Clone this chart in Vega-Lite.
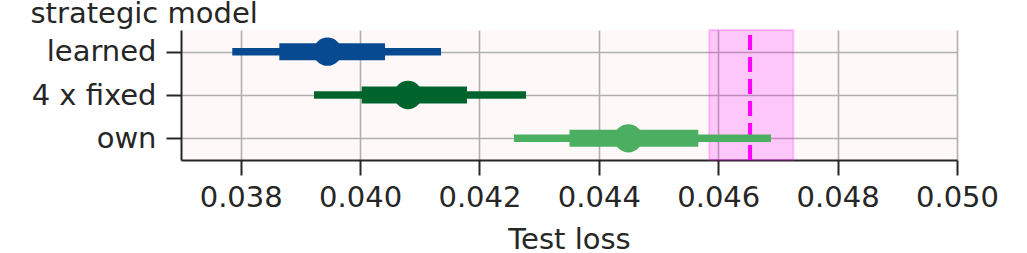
{
  "$schema": "https://vega.github.io/schema/vega-lite/v6.json",
  "width": 776,
  "height": 130,
  "autosize": {"type": "none"},
  "padding": {"left": 181, "top": 30, "right": 70, "bottom": 93},
  "datasets": {
    "rows": [
      {"model": "learned", "mean": 0.039454, "lo95": 0.037859, "hi95": 0.041356, "lo50": 0.038647, "hi50": 0.040418},
      {"model": "4 x fixed", "mean": 0.040803, "lo95": 0.039228, "hi95": 0.04278, "lo50": 0.040027, "hi50": 0.041791},
      {"model": "own", "mean": 0.044494, "lo95": 0.042579, "hi95": 0.046884, "lo50": 0.043508, "hi50": 0.045666}
    ],
    "ref": [
      {"lo": 0.04585, "hi": 0.047258, "value": 0.046533}
    ]
  },
  "layer": [
    {
      "data": {"name": "ref"},
      "mark": {"type": "rect", "fill": "#ff00ff", "fillOpacity": 0.2, "stroke": "#ff00ff", "strokeOpacity": 0.2, "strokeWidth": 2},
      "encoding": {
        "x": {"field": "lo", "type": "quantitative", "scale": {"domain": [0.037, 0.05], "nice": false, "zero": false}},
        "x2": {"field": "hi"}
      }
    },
    {
      "data": {"name": "ref"},
      "mark": {"type": "rule", "color": "#ff00ff", "strokeWidth": 4, "strokeDash": [15, 7], "strokeDashOffset": 17},
      "encoding": {
        "x": {"field": "value", "type": "quantitative"}
      }
    },
    {
      "data": {"name": "rows"},
      "mark": {"type": "rule", "strokeWidth": 7.5},
      "encoding": {
        "y": {"field": "model", "type": "nominal"},
        "x": {"field": "lo95", "type": "quantitative"},
        "x2": {"field": "hi95"},
        "color": {"field": "model", "type": "nominal"}
      }
    },
    {
      "data": {"name": "rows"},
      "mark": {"type": "rule", "strokeWidth": 17},
      "encoding": {
        "y": {"field": "model", "type": "nominal"},
        "x": {"field": "lo50", "type": "quantitative"},
        "x2": {"field": "hi50"},
        "color": {"field": "model", "type": "nominal"}
      }
    },
    {
      "data": {"name": "rows"},
      "mark": {"type": "circle", "size": 800, "opacity": 1},
      "encoding": {
        "y": {"field": "model", "type": "nominal"},
        "x": {"field": "mean", "type": "quantitative"},
        "color": {"field": "model", "type": "nominal"}
      }
    }
  ],
  "encoding": {
    "x": {
      "type": "quantitative",
      "title": "Test loss",
      "scale": {"domain": [0.037, 0.05], "nice": false, "zero": false},
      "axis": {"values": [0.038, 0.04, 0.042, 0.044, 0.046, 0.048, 0.05], "format": ".3f", "grid": true, "labelOverlap": false, "labelFlush": false, "labelPadding": 8, "titlePadding": 13}
    },
    "y": {
      "type": "nominal",
      "title": "strategic model",
      "sort": ["learned", "4 x fixed", "own"],
      "scale": {"type": "point", "padding": 0.5, "domain": ["learned", "4 x fixed", "own"]},
      "axis": {"grid": true, "labelPadding": 10, "titleAngle": 0, "titleAlign": "left", "titleBaseline": "alphabetic", "titleX": -151, "titleY": -8}
    },
    "color": {
      "type": "nominal",
      "scale": {"domain": ["learned", "4 x fixed", "own"], "range": ["#084a91", "#00652c", "#4bae61"]},
      "legend": null
    }
  },
  "config": {
    "view": {"fill": "#fef9f8", "stroke": null},
    "axis": {
      "domainColor": "#262626",
      "domainWidth": 2,
      "tickColor": "#262626",
      "tickWidth": 2,
      "tickSize": 15,
      "labelFont": "DejaVu Sans",
      "labelFontSize": 29,
      "labelColor": "#262626",
      "titleFont": "DejaVu Sans",
      "titleFontSize": 29,
      "titleFontWeight": "normal",
      "titleColor": "#262626",
      "gridColor": "#b0b0b0",
      "gridWidth": 1.6
    }
  }
}
